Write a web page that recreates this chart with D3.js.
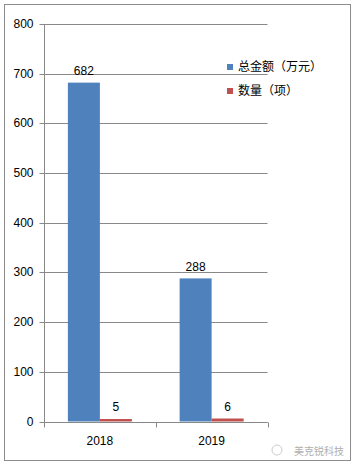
<!DOCTYPE html>
<html><head><meta charset="utf-8">
<script src="https://cdn.jsdelivr.net/npm/d3@7"></script>
<style>body{margin:0;background:#fff}svg{display:block}</style>
</head><body>
<script>
const categories = ["2018", "2019"];
const seriesNames = ["总金额（万元）", "数量（项）"];
const amountValues = [682, 288];
const countValues = [5, 6];
const yTicks = [0, 100, 200, 300, 400, 500, 600, 700, 800];
const colors = ["#4F81BD", "#C0504D"];

(function () {
const W = 356, H = 470;
const svg = d3.select("body").append("svg").attr("width", W).attr("height", H);
const font = "'Liberation Sans', Arial, sans-serif";
const cjk = "'Noto Sans CJK SC', sans-serif";

svg.append("rect").attr("x", 4.5).attr("y", 4.5).attr("width", 346).attr("height", 456)
  .attr("fill", "#fff").attr("stroke", "#8c8c8c").attr("stroke-width", 1);

const pLeft = 44, pRight = 267.5, pTop = 24, pBottom = 421.5;
const x = d3.scaleBand().domain(categories).range([pLeft, pRight]);
const y = d3.scaleLinear().domain([0, 800]).range([pBottom, pTop]);
const inner = d3.scaleBand().domain([0, 1]).range([0, 64]);

// gridlines
svg.append("g").selectAll("line").data(yTicks).join("line")
  .attr("x1", pLeft).attr("x2", pRight)
  .attr("y1", d => Math.round(y(d)) + 0.5).attr("y2", d => Math.round(y(d)) + 0.5)
  .attr("stroke", "#888").attr("stroke-width", 1);

// y axis
const yAxis = svg.append("g").attr("transform", `translate(${pLeft + 0.5},0)`)
  .call(d3.axisLeft(y).tickValues(yTicks).tickSize(5).tickPadding(6));
yAxis.select(".domain").attr("stroke", "#888").attr("d", `M0,${pTop}V${pBottom + 0.5}`);
yAxis.selectAll(".tick line").attr("stroke", "#888");
yAxis.selectAll(".tick").attr("transform", d => `translate(0,${Math.round(y(d)) + 0.5})`);
yAxis.selectAll(".tick text").attr("font-family", font).attr("font-size", 12).attr("fill", "#000");

// x axis
const xg = svg.append("g").attr("transform", `translate(0,${Math.round(pBottom) + 0.5})`);
xg.append("line").attr("x1", pLeft).attr("x2", pRight).attr("stroke", "#888");
const xTickPos = [pLeft, ...categories.map(c => x(c) + x.bandwidth())];
xg.selectAll("line.t").data(xTickPos).join("line").attr("class", "t")
  .attr("x1", d => Math.round(d) + 0.5).attr("x2", d => Math.round(d) + 0.5)
  .attr("y1", 0).attr("y2", 5).attr("stroke", "#888");
xg.selectAll("text").data(categories).join("text")
  .attr("x", d => x(d) + x.bandwidth() / 2).attr("y", 22)
  .attr("text-anchor", "middle").attr("font-family", font).attr("font-size", 12).text(d => d);

// bars
const series = [amountValues, countValues];
series.forEach((vals, si) => {
  const g = svg.append("g");
  g.selectAll("rect").data(vals).join("rect")
    .attr("x", (d, i) => x(categories[i]) + x.bandwidth() / 2 - 32 + inner(si))
    .attr("width", inner.bandwidth())
    .attr("y", d => y(d)).attr("height", d => y(0) - y(d))
    .attr("fill", colors[si]);
  g.selectAll("text").data(vals).join("text")
    .attr("x", (d, i) => x(categories[i]) + x.bandwidth() / 2 - 32 + inner(si) + inner.bandwidth() / 2)
    .attr("y", d => y(d) - 12)
    .attr("dy", "0.35em")
    .attr("text-anchor", "middle").attr("font-family", font).attr("font-size", 12).text(d => d);
});

// legend
const lg = svg.append("g");
seriesNames.forEach((n, i) => {
  const cy = 67 + i * 24;
  lg.append("rect").attr("x", 227).attr("y", cy - 3).attr("width", 6).attr("height", 6).attr("fill", colors[i]);
  lg.append("text").attr("x", 238).attr("y", cy).attr("dy", "0.35em")
    .attr("font-family", cjk).attr("font-size", 12).attr("fill", "#000").text(n);
});

// watermark
const wm = svg.append("g");
wm.append("circle").attr("cx", 277).attr("cy", 450).attr("r", 5).attr("fill", "none").attr("stroke", "#ccc");
wm.append("text").attr("x", 294).attr("y", 451).attr("dy", "0.35em")
  .attr("font-family", cjk).attr("font-size", 10).attr("fill", "#b0b0b0").text("美克锐科技");
})();
</script>
</body></html>
